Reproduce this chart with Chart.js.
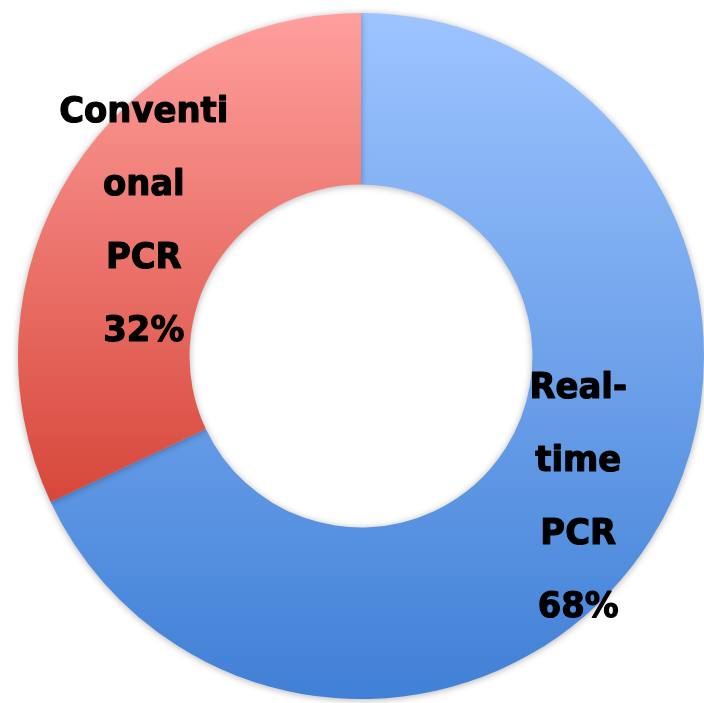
<!DOCTYPE html>
<html>
<head>
<meta charset="utf-8">
<script src="https://cdn.jsdelivr.net/npm/chart.js@4"></script>
<style>
html,body{margin:0;padding:0;background:#fff;}
#wrap{width:704px;height:703px;position:relative;}
</style>
</head>
<body>
<div id="wrap"><canvas id="c" width="704" height="703"></canvas></div>
<script>
const categories = ["Real-time PCR", "Conventional PCR"];
const labelLines = [["Real-", "time", "PCR"], ["Conventi", "onal", "PCR"]];
const values = [68, 32];
const topColors = ["#9DC4FF", "#FF9F9D"];
const bottomColors = ["#4080D6", "#D7473A"];

const total = values.reduce((a, b) => a + b, 0);

function sliceGradient(context) {
  const chart = context.chart;
  const area = chart.chartArea;
  const i = context.dataIndex;
  if (!area) return topColors[i];
  const cx = (area.left + area.right) / 2;
  const cy = (area.top + area.bottom) / 2;
  const r = Math.min(area.right - area.left, area.bottom - area.top) / 2;
  let start = 0;
  for (let k = 0; k < i; k++) start += values[k] / total * Math.PI * 2;
  const end = start + values[i] / total * Math.PI * 2;
  const ys = [cy - r * Math.cos(start), cy - r * Math.cos(end)];
  if (start <= 0 && end >= 0) ys.push(cy - r);
  if (start <= Math.PI && end >= Math.PI) ys.push(cy + r);
  if (end >= Math.PI * 2) ys.push(cy - r);
  const y0 = Math.min(...ys), y1 = Math.max(...ys);
  const g = chart.ctx.createLinearGradient(0, y0, 0, y1);
  g.addColorStop(0, topColors[i]);
  g.addColorStop(1, bottomColors[i]);
  return g;
}

const shadowPlugin = {
  id: 'shadow',
  beforeDatasetsDraw(chart) {
    const ctx = chart.ctx;
    ctx.save();
    ctx.shadowColor = 'rgba(0,0,0,0.30)';
    ctx.shadowBlur = 7;
    ctx.shadowOffsetX = 0;
    ctx.shadowOffsetY = 1;
  },
  afterDatasetsDraw(chart) {
    chart.ctx.restore();
  }
};

const labelPlugin = {
  id: 'sliceLabels',
  afterDatasetsDraw(chart) {
    const ctx = chart.ctx;
    const meta = chart.getDatasetMeta(0);
    const lh = 73;
    const sx = 0.94;
    meta.data.forEach((arc, i) => {
      const p = arc.tooltipPosition();
      const lines = labelLines[i].concat([values[i] + '%']);
      const startY = p.y + 4 - (lines.length - 1) * lh / 2;
      ctx.save();
      ctx.fillStyle = '#000';
      ctx.strokeStyle = '#000';
      ctx.lineWidth = 1.2;
      ctx.lineJoin = 'round';
      ctx.font = 'bold 36px "DejaVu Sans", Verdana, sans-serif';
      ctx.textAlign = 'center';
      ctx.textBaseline = 'middle';
      ctx.translate(p.x, 0);
      ctx.scale(sx, 1);
      lines.forEach((t, j) => {
        ctx.fillText(t, 0, startY + j * lh);
        ctx.strokeText(t, 0, startY + j * lh);
      });
      ctx.restore();
    });
  }
};

new Chart(document.getElementById('c'), {
  type: 'doughnut',
  data: {
    labels: categories,
    datasets: [{
      data: values,
      backgroundColor: sliceGradient,
      borderWidth: 0,
      hoverOffset: 0
    }]
  },
  options: {
    responsive: false,
    animation: false,
    cutout: '50%',
    layout: { padding: { left: 18, right: 0, top: 13, bottom: 4 } },
    plugins: {
      legend: { display: false },
      tooltip: { enabled: false }
    }
  },
  plugins: [shadowPlugin, labelPlugin]
});
</script>
</body>
</html>
